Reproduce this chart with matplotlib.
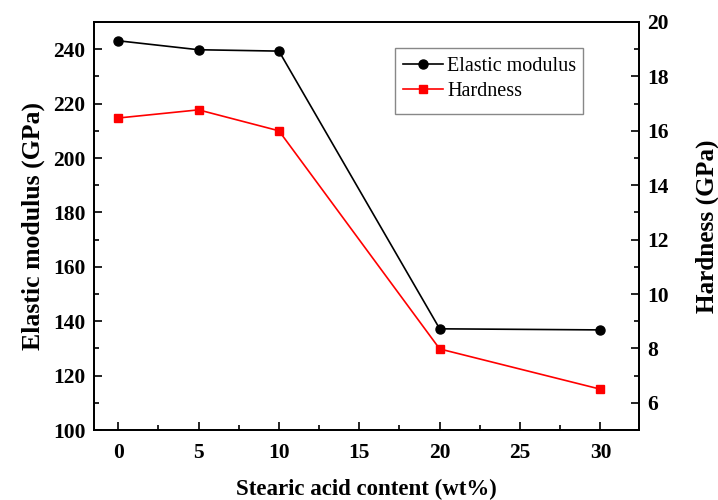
import numpy as np
import matplotlib
matplotlib.use("Agg")
import matplotlib.pyplot as plt
from matplotlib.ticker import MultipleLocator
from matplotlib.patches import Rectangle

plt.rcParams['font.family'] = ['Liberation Serif', 'DejaVu Serif']

# data
content = [0, 5, 10, 20, 30]
elastic = [243.1, 239.8, 239.3, 137.2, 136.8]
hardness = [16.47, 16.77, 16.0, 7.98, 6.5]

fig = plt.figure(figsize=(7.18, 5.0), dpi=100)
ax = fig.add_axes([0.131, 0.14, 0.759, 0.816])
ax2 = ax.twinx()

l1, = ax.plot(content, elastic, 'k-', marker='o', markersize=6.5, lw=1.2)
l2, = ax2.plot(content, hardness, '-', color='red', marker='s',
               markersize=6, lw=1.2)

ax.set_xlim(-1.5, 32.4)
ax.set_ylim(100, 250)
ax2.set_ylim(5, 20)

ax.xaxis.set_major_locator(MultipleLocator(5))
ax.xaxis.set_minor_locator(MultipleLocator(2.5))
ax.yaxis.set_major_locator(MultipleLocator(20))
ax.yaxis.set_minor_locator(MultipleLocator(10))
ax2.yaxis.set_major_locator(MultipleLocator(2))
ax2.yaxis.set_minor_locator(MultipleLocator(1))

for a in (ax, ax2):
    a.tick_params(which='both', direction='in', width=1.2, labelsize=15.5)
    a.tick_params(which='major', length=6)
    a.tick_params(which='minor', length=3.5)
    for s in a.spines.values():
        s.set_linewidth(1.3)
    for lab in a.get_xticklabels() + a.get_yticklabels():
        lab.set_fontweight('bold')
ax.tick_params(top=False, which='both')
ax.tick_params(axis='y', right=False, which='both')
ax2.tick_params(axis='x', top=False, bottom=False, which='both')
ax.tick_params(axis='x', pad=9)
ax.tick_params(axis='y', pad=6)
ax2.tick_params(axis='y', pad=6)

ax.set_xlabel('Stearic acid content (wt%)', fontsize=16.5, fontweight='bold', labelpad=12)
ax.set_ylabel('Elastic modulus (GPa)', fontsize=18.5, fontweight='bold', labelpad=6)
ax2.set_ylabel('Hardness (GPa)', fontsize=18.2, fontweight='bold', labelpad=19)

leg = ax2.legend([l1, l2], ['Elastic modulus', 'Hardness'], loc='upper left',
                 bbox_to_anchor=(0.567, 0.914), fontsize=14.5, frameon=False,
                 handlelength=2.0, handletextpad=0.2, borderpad=0.0,
                 labelspacing=0.3, borderaxespad=0)
# legend frame is taller than its two entries in the reference
fig.patches.append(Rectangle((395 / 718, 1 - 114 / 500), 188 / 718, 66 / 500,
                             transform=fig.transFigure, fill=False,
                             edgecolor='#888888', lw=1.0, zorder=5))

fig.savefig('out.png', dpi=100)
